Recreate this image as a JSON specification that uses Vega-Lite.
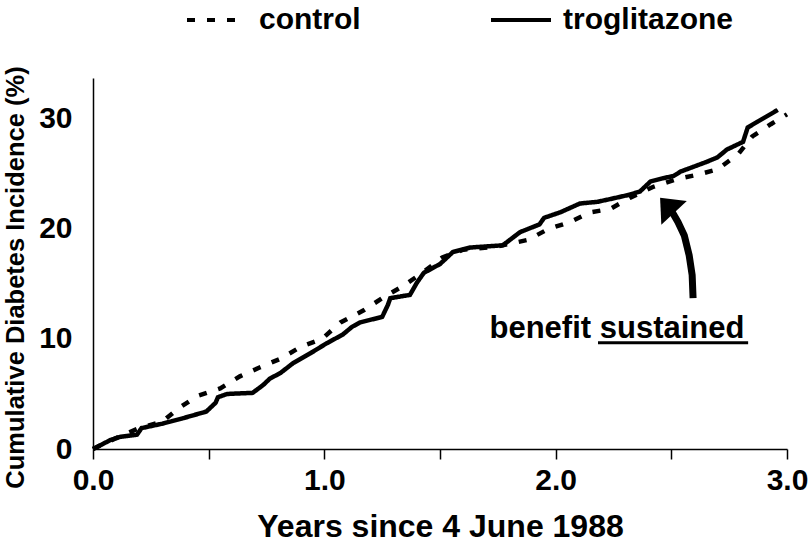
{
  "$schema": "https://vega.github.io/schema/vega-lite/v6.json",
  "width": 694,
  "height": 371,
  "autosize": {"type": "none"},
  "padding": {"left": 93, "top": 78, "right": 21, "bottom": 102},
  "background": "white",
  "config": {
    "view": {"stroke": null},
    "font": "Liberation Sans",
    "axis": {
      "grid": false,
      "domainColor": "black",
      "domainWidth": 1.5,
      "tickColor": "black",
      "tickWidth": 1.5,
      "labelColor": "black",
      "labelFont": "Liberation Sans",
      "labelFontWeight": "bold",
      "labelFontSize": 30,
      "titleColor": "black",
      "titleFont": "Liberation Sans",
      "titleFontWeight": "bold"
    }
  },
  "datasets": {
    "curves": [
      {"group": "troglitazone", "years": 0, "incidence": 0},
      {"group": "troglitazone", "years": 0.074, "incidence": 0.8},
      {"group": "troglitazone", "years": 0.117, "incidence": 1.1},
      {"group": "troglitazone", "years": 0.19, "incidence": 1.3},
      {"group": "troglitazone", "years": 0.21, "incidence": 1.9},
      {"group": "troglitazone", "years": 0.3, "incidence": 2.3},
      {"group": "troglitazone", "years": 0.39, "incidence": 2.8},
      {"group": "troglitazone", "years": 0.49, "incidence": 3.4},
      {"group": "troglitazone", "years": 0.53, "incidence": 4.2},
      {"group": "troglitazone", "years": 0.54, "incidence": 4.7},
      {"group": "troglitazone", "years": 0.58, "incidence": 5.0},
      {"group": "troglitazone", "years": 0.69, "incidence": 5.1},
      {"group": "troglitazone", "years": 0.735, "incidence": 5.8},
      {"group": "troglitazone", "years": 0.765, "incidence": 6.4},
      {"group": "troglitazone", "years": 0.81, "incidence": 6.9},
      {"group": "troglitazone", "years": 0.865, "incidence": 7.8},
      {"group": "troglitazone", "years": 0.94, "incidence": 8.7},
      {"group": "troglitazone", "years": 1.01, "incidence": 9.6},
      {"group": "troglitazone", "years": 1.08, "incidence": 10.4},
      {"group": "troglitazone", "years": 1.12, "incidence": 11.1},
      {"group": "troglitazone", "years": 1.155, "incidence": 11.5},
      {"group": "troglitazone", "years": 1.25, "incidence": 12.0},
      {"group": "troglitazone", "years": 1.275, "incidence": 13.1},
      {"group": "troglitazone", "years": 1.285, "incidence": 13.7},
      {"group": "troglitazone", "years": 1.37, "incidence": 14.0},
      {"group": "troglitazone", "years": 1.4, "incidence": 15.1},
      {"group": "troglitazone", "years": 1.43, "incidence": 16.0},
      {"group": "troglitazone", "years": 1.5, "incidence": 16.8},
      {"group": "troglitazone", "years": 1.556, "incidence": 17.9},
      {"group": "troglitazone", "years": 1.63, "incidence": 18.3},
      {"group": "troglitazone", "years": 1.77, "incidence": 18.5},
      {"group": "troglitazone", "years": 1.79, "incidence": 18.8},
      {"group": "troglitazone", "years": 1.846, "incidence": 19.7},
      {"group": "troglitazone", "years": 1.93, "incidence": 20.4},
      {"group": "troglitazone", "years": 1.95, "incidence": 21.0},
      {"group": "troglitazone", "years": 2.02, "incidence": 21.5},
      {"group": "troglitazone", "years": 2.105, "incidence": 22.3},
      {"group": "troglitazone", "years": 2.18, "incidence": 22.45},
      {"group": "troglitazone", "years": 2.235, "incidence": 22.7},
      {"group": "troglitazone", "years": 2.32, "incidence": 23.1},
      {"group": "troglitazone", "years": 2.365, "incidence": 23.4},
      {"group": "troglitazone", "years": 2.41, "incidence": 24.3},
      {"group": "troglitazone", "years": 2.465, "incidence": 24.6},
      {"group": "troglitazone", "years": 2.51, "incidence": 24.8},
      {"group": "troglitazone", "years": 2.54, "incidence": 25.2},
      {"group": "troglitazone", "years": 2.655, "incidence": 26.1},
      {"group": "troglitazone", "years": 2.7, "incidence": 26.5},
      {"group": "troglitazone", "years": 2.74, "incidence": 27.2},
      {"group": "troglitazone", "years": 2.81, "incidence": 27.9},
      {"group": "troglitazone", "years": 2.83, "incidence": 29.2},
      {"group": "troglitazone", "years": 2.87, "incidence": 29.7},
      {"group": "troglitazone", "years": 2.96, "incidence": 30.8},
      {"group": "control", "years": 0, "incidence": 0},
      {"group": "control", "years": 0.1, "incidence": 1.0},
      {"group": "control", "years": 0.2, "incidence": 1.9},
      {"group": "control", "years": 0.3, "incidence": 2.5},
      {"group": "control", "years": 0.37, "incidence": 3.7},
      {"group": "control", "years": 0.45, "incidence": 4.8},
      {"group": "control", "years": 0.55, "incidence": 5.5},
      {"group": "control", "years": 0.635, "incidence": 6.6},
      {"group": "control", "years": 0.72, "incidence": 7.4},
      {"group": "control", "years": 0.81, "incidence": 8.2},
      {"group": "control", "years": 0.9, "incidence": 9.3},
      {"group": "control", "years": 0.99, "incidence": 10.0},
      {"group": "control", "years": 1.07, "incidence": 11.5},
      {"group": "control", "years": 1.17, "incidence": 12.6},
      {"group": "control", "years": 1.25, "incidence": 13.7},
      {"group": "control", "years": 1.34, "incidence": 14.8},
      {"group": "control", "years": 1.43, "incidence": 16.1},
      {"group": "control", "years": 1.51, "incidence": 17.4},
      {"group": "control", "years": 1.6, "incidence": 18.1},
      {"group": "control", "years": 1.75, "incidence": 18.4},
      {"group": "control", "years": 1.88, "incidence": 19.0},
      {"group": "control", "years": 1.97, "incidence": 20.0},
      {"group": "control", "years": 2.06, "incidence": 20.6},
      {"group": "control", "years": 2.15, "incidence": 21.5},
      {"group": "control", "years": 2.235, "incidence": 21.8},
      {"group": "control", "years": 2.32, "incidence": 22.8},
      {"group": "control", "years": 2.42, "incidence": 23.8},
      {"group": "control", "years": 2.52, "incidence": 24.5},
      {"group": "control", "years": 2.61, "incidence": 24.9},
      {"group": "control", "years": 2.7, "incidence": 25.4},
      {"group": "control", "years": 2.79, "incidence": 26.8},
      {"group": "control", "years": 2.85, "incidence": 28.4},
      {"group": "control", "years": 2.93, "incidence": 29.5},
      {"group": "control", "years": 3.0, "incidence": 30.4}
    ],
    "arrow": [
      {"step": 1, "years": 2.594, "incidence": 13.7},
      {"step": 2, "years": 2.59, "incidence": 15.8},
      {"step": 3, "years": 2.577, "incidence": 17.6},
      {"step": 4, "years": 2.556, "incidence": 19.4},
      {"step": 5, "years": 2.529, "incidence": 20.6},
      {"step": 6, "years": 2.503, "incidence": 21.55}
    ],
    "arrowhead": [
      {"years": 2.4816, "incidence": 22.14}
    ],
    "note": [
      {"years": 2.265, "incidence": 10.09, "label": "benefit sustained"}
    ],
    "underline": [
      {"years": 2.183, "years_end": 2.832, "incidence": 9.64}
    ]
  },
  "layer": [
    {
      "data": {"name": "curves"},
      "mark": {"type": "line", "color": "black", "strokeWidth": 4.5, "strokeCap": "butt"},
      "encoding": {
        "x": {
          "field": "years",
          "type": "quantitative",
          "scale": {"domain": [0, 3], "nice": false},
          "axis": {
            "values": [0, 0.5, 1, 1.5, 2, 2.5, 3],
            "labelExpr": "datum.value % 1 === 0 ? format(datum.value, '.1f') : ''",
            "tickSize": 10,
            "labelPadding": 6,
            "labelFlush": false,
            "labelOverlap": false,
            "title": "Years since 4 June 1988",
            "titleFontSize": 32,
            "titlePadding": 16
          }
        },
        "y": {
          "field": "incidence",
          "type": "quantitative",
          "scale": {"domain": [0, 33.7], "nice": false},
          "axis": {
            "values": [0, 10, 20, 30],
            "ticks": false,
            "labelPadding": 21,
            "title": "Cumulative Diabetes Incidence (%)",
            "titleFontSize": 25.5,
            "titlePadding": 10,
            "titleY": 199
          }
        },
        "strokeDash": {
          "field": "group",
          "type": "nominal",
          "scale": {"domain": ["control", "troglitazone"], "range": [[8, 12], [1, 0]]},
          "legend": {
            "orient": "none",
            "legendX": 92,
            "legendY": -90,
            "direction": "horizontal",
            "title": null,
            "symbolType": "stroke",
            "symbolSize": 3600,
            "symbolStrokeWidth": 4,
            "symbolStrokeColor": "black",
            "labelFont": "Liberation Sans",
            "labelFontWeight": "bold",
            "labelFontSize": 30,
            "labelColor": "black",
            "labelLimit": 0,
            "labelOffset": 10,
            "columnPadding": 122
          }
        }
      }
    },
    {
      "data": {"name": "arrow"},
      "mark": {"type": "line", "color": "black", "strokeWidth": 7, "strokeCap": "butt"},
      "encoding": {
        "x": {"field": "years", "type": "quantitative"},
        "y": {"field": "incidence", "type": "quantitative"},
        "order": {"field": "step", "type": "quantitative"}
      }
    },
    {
      "data": {"name": "arrowhead"},
      "mark": {"type": "point", "shape": "M0,-1L1.7,1L-1.7,1Z", "filled": true, "color": "black", "opacity": 1, "size": 420, "angle": -43},
      "encoding": {
        "x": {"field": "years", "type": "quantitative"},
        "y": {"field": "incidence", "type": "quantitative"}
      }
    },
    {
      "data": {"name": "note"},
      "mark": {"type": "text", "font": "Liberation Sans", "fontWeight": "bold", "fontSize": 31, "align": "center", "baseline": "alphabetic", "color": "black"},
      "encoding": {
        "x": {"field": "years", "type": "quantitative"},
        "y": {"field": "incidence", "type": "quantitative"},
        "text": {"field": "label"}
      }
    },
    {
      "data": {"name": "underline"},
      "mark": {"type": "rule", "color": "black", "strokeWidth": 3},
      "encoding": {
        "x": {"field": "years", "type": "quantitative"},
        "x2": {"field": "years_end"},
        "y": {"field": "incidence", "type": "quantitative"}
      }
    }
  ]
}
